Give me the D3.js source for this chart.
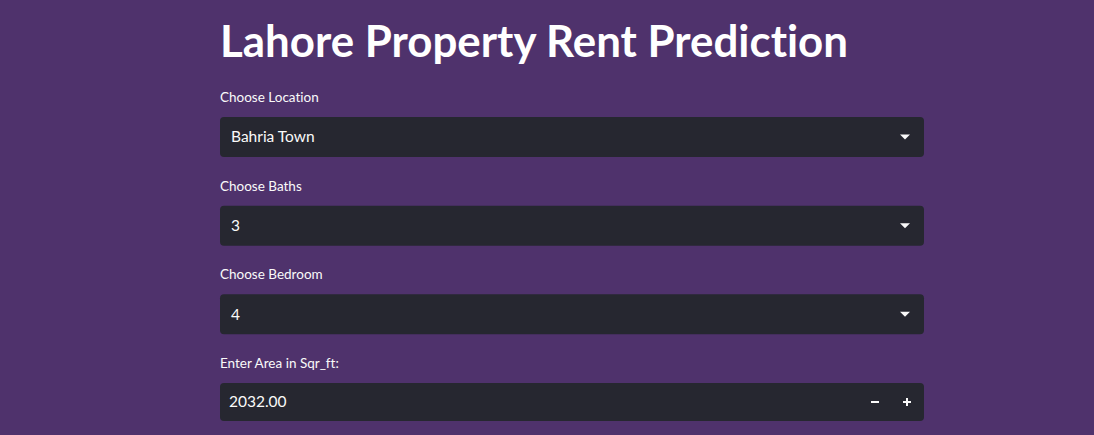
<!DOCTYPE html>
<html>
<head>
<meta charset="utf-8">
<script src="https://cdn.jsdelivr.net/npm/d3@7"></script>
<style>
  html, body { margin: 0; padding: 0; background: #4f326c; overflow: hidden; }
  svg { display: block; }
  text { font-variant-ligatures: none; font-feature-settings: "liga" 0; }
</style>
</head>
<body>
<div id="app"></div>
<script>
// form content
var title = "Lahore Property Rent Prediction"
var labels = ["Choose Location", "Choose Baths", "Choose Bedroom", "Enter Area in Sqr_ft:"]
var values = ["Bahria Town", "3", "4", "2032.00"]
var kinds = ["select", "select", "select", "number"]

var width = 1094
var height = 435
var font = "Lato, 'Open Sans', sans-serif"

var svg = d3.select("#app")
    .append("svg")
    .attr("width", width)
    .attr("height", height)

svg.append("rect")
    .attr("width", width)
    .attr("height", height)
    .attr("fill", "#4f326c")

var x = d3.scaleLinear().domain([0, 1]).range([220, 924])
var y = d3.scaleLinear().domain([0, 3]).range([117, 383])

var t = svg.append("text")
    .attr("x", x(0))
    .attr("y", 57)
    .attr("fill", "#ffffff")
    .attr("font-family", font)
    .attr("font-weight", 700)
    .attr("font-size", 44)
    .text(title)
// squeeze to the width of the original narrower face
var tw = t.node().getComputedTextLength()
if (tw > 628) t.attr("textLength", 628).attr("lengthAdjust", "spacingAndGlyphs")

var row = svg.append("g")
    .selectAll("g")
    .data(labels)
    .join("g")
    .attr("transform", (d, i) => `translate(0,${y(i)})`)

row.append("text")
    .attr("x", x(0))
    .attr("y", -15)
    .attr("fill", "#fafafa")
    .attr("font-family", font)
    .attr("font-size", 13.5)
    .text(d => d)

row.append("rect")
    .attr("x", x(0))
    .attr("width", x(1) - x(0))
    .attr("height", (d, i) => kinds[i] == "number" ? 38 : 40)
    .attr("rx", 4)
    .attr("fill", "#262730")

row.append("text")
    .attr("x", (d, i) => kinds[i] == "number" ? x(0) + 9 : x(0) + 11)
    .attr("y", (d, i) => kinds[i] == "number" ? 19 : 20)
    .attr("dy", "0.35em")
    .attr("fill", "#fafafa")
    .attr("font-family", font)
    .attr("font-size", 15.5)
    .text((d, i) => values[i])

// dropdown arrows
row.filter((d, i) => kinds[i] == "select")
    .append("path")
    .attr("d", `M${x(1) - 24},17.5 L${x(1) - 14},17.5 L${x(1) - 19},22.5 Z`)
    .attr("fill", "#fafafa")

// step buttons on the number input
var num = row.filter((d, i) => kinds[i] == "number")
num.append("rect")
    .attr("x", x(1) - 53)
    .attr("y", 18)
    .attr("width", 8)
    .attr("height", 2)
    .attr("fill", "#fafafa")
num.append("path")
    .attr("d", `M${x(1) - 21},19 h8 M${x(1) - 17},15 v8`)
    .attr("stroke", "#fafafa")
    .attr("stroke-width", 2)
</script>
</body>
</html>
